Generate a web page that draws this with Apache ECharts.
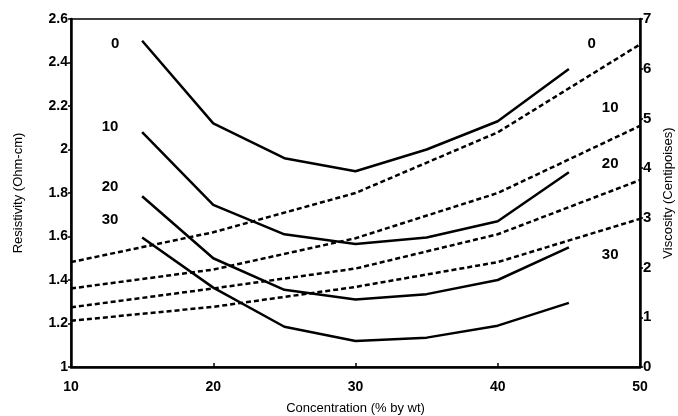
<!DOCTYPE html>
<html>
<head>
<meta charset="utf-8">
<script src="https://cdn.jsdelivr.net/npm/echarts@6/dist/echarts.min.js"></script>
<style>
  html, body { margin: 0; padding: 0; background: #fff; }
  #main { width: 678px; height: 416px; }
</style>
</head>
<body>
<div id="main"></div>
<script>
// resistivity (solid, left axis)
var conc = [15, 20, 25, 30, 35, 40, 45];
var res0 = [2.50, 2.12, 1.96, 1.90, 2.00, 2.13, 2.37];
var res10 = [2.08, 1.745, 1.61, 1.565, 1.595, 1.67, 1.895];
var res20 = [1.785, 1.50, 1.355, 1.31, 1.335, 1.40, 1.55];
var res30 = [1.595, 1.365, 1.185, 1.12, 1.135, 1.19, 1.295];

// viscosity (dashed, right axis)
var viscX = [10, 20, 30, 40, 50];
var visc0 = [2.11, 2.71, 3.50, 4.72, 6.49];
var visc10 = [1.58, 1.96, 2.59, 3.50, 4.85];
var visc20 = [1.20, 1.58, 1.98, 2.67, 3.76];
var visc30 = [0.93, 1.21, 1.61, 2.11, 2.98];

// curve labels
var leftLabels = [[13.1, 2.485, '0'], [12.75, 2.105, '10'], [12.75, 1.83, '20'], [12.75, 1.675, '30']];
var rightLabels = [[46.6, 6.50, '0'], [47.9, 5.22, '10'], [47.9, 4.09, '20'], [47.9, 2.25, '30']];

var font = 'Liberation Sans';

function zip(xs, ys) {
  return xs.map(function (x, i) { return [x, ys[i]]; });
}

function solid(ys) {
  return {
    type: 'line', yAxisIndex: 0, data: zip(conc, ys), symbol: 'none', silent: true,
    lineStyle: { color: '#000', width: 2.5 }
  };
}

function dashed(ys) {
  return {
    type: 'line', yAxisIndex: 1, data: zip(viscX, ys), symbol: 'none', silent: true,
    lineStyle: { color: '#000', width: 2.5, type: [5, 3] }
  };
}

function labels(arr, axis) {
  return {
    type: 'scatter', yAxisIndex: axis, data: arr, symbolSize: 0, silent: true,
    itemStyle: { opacity: 1, color: '#000' },
    label: {
      show: true, position: 'inside', color: '#000', fontFamily: font,
      fontSize: 15, fontWeight: 'bold',
      formatter: function (p) { return p.value[2]; }
    }
  };
}

var chart = echarts.init(document.getElementById('main'));
chart.setOption({
  animation: false,
  backgroundColor: '#fff',
  grid: {
    left: 71, right: 38, top: 19, bottom: 49,
    outerBoundsMode: 'none', containLabel: false,
    show: true, borderColor: '#000', borderWidth: 1.5
  },
  xAxis: {
    type: 'value', min: 10, max: 50, interval: 10,
    name: 'Concentration (% by wt)', nameLocation: 'middle', nameGap: 35,
    nameTextStyle: { fontFamily: font, fontSize: 13, color: '#000' },
    axisLine: { lineStyle: { color: '#000', width: 2.5 } },
    axisTick: { inside: true, length: 4, lineStyle: { color: '#000', width: 1.5 } },
    axisLabel: { fontFamily: font, fontSize: 14, fontWeight: 'bold', color: '#000', margin: 13 },
    splitLine: { show: false }
  },
  yAxis: [{
    type: 'value', min: 1, max: 2.6, interval: 0.2, position: 'left',
    name: 'Resistivity (Ohm-cm)', nameLocation: 'middle', nameGap: 46,
    nameTextStyle: { fontFamily: font, fontSize: 13, color: '#000' },
    axisLine: { show: true, lineStyle: { color: '#000', width: 2.5 } },
    axisTick: { show: true, length: 3, lineStyle: { color: '#000', width: 1.5 } },
    axisLabel: { fontFamily: font, fontSize: 14, fontWeight: 'bold', color: '#000', margin: 3 },
    splitLine: { show: false }
  }, {
    type: 'value', min: 0, max: 7, interval: 1, position: 'right',
    name: 'Viscosity (Centipoises)', nameLocation: 'middle', nameGap: 21, nameRotate: 90,
    nameTextStyle: { fontFamily: font, fontSize: 13, color: '#000' },
    axisLine: { show: true, lineStyle: { color: '#000', width: 2.5 } },
    axisTick: { show: true, length: 3, lineStyle: { color: '#000', width: 1.5 } },
    axisLabel: { fontFamily: font, fontSize: 15, fontWeight: 'bold', color: '#000', margin: 3 },
    splitLine: { show: false }
  }],
  series: [
    solid(res0), solid(res10), solid(res20), solid(res30),
    dashed(visc0), dashed(visc10), dashed(visc20), dashed(visc30),
    labels(leftLabels, 0), labels(rightLabels, 1)
  ]
});
</script>
</body>
</html>
